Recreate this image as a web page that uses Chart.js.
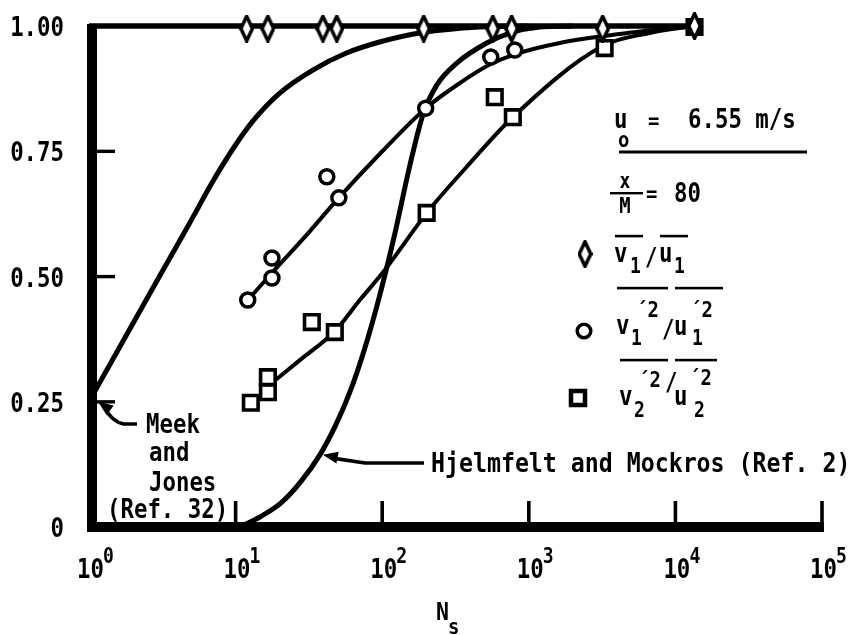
<!DOCTYPE html>
<html>
<head>
<meta charset="utf-8">
<script src="https://cdn.jsdelivr.net/npm/chart.js@4"></script>
<style>
  html, body { margin: 0; padding: 0; background: #fff; }
  #wrap { width: 859px; height: 635px; }
</style>
</head>
<body>
<div id="wrap"><canvas id="fig" width="859" height="635"></canvas></div>
<script>
// Axis ticks
const xTicks = [1, 10, 100, 1000, 10000, 100000];
const xTickExp = ['0', '1', '2', '3', '4', '5'];
const yTicks = [0, 0.25, 0.5, 0.75, 1];
const yTickLabels = ['0', '0.25', '0.50', '0.75', '1.00'];

// Measured points: v1/u1 (diamonds), v1'2/u1'2 (circles), v2'2/u2'2 (squares)
const diaX = [11.9, 16.6, 39.4, 49, 192, 568, 764, 3190, 13500];
const diaY = [0.995, 0.995, 0.995, 0.995, 0.995, 0.995, 0.995, 0.995, 1.0];
const circX = [12.1, 17.7, 17.7, 41.9, 50.6, 198, 550, 802, 13500];
const circY = [0.453, 0.497, 0.537, 0.699, 0.657, 0.836, 0.938, 0.952, 0.998];
const sqX = [12.7, 16.6, 16.6, 33.1, 47.5, 201, 586, 778, 3290, 13500];
const sqY = [0.248, 0.269, 0.299, 0.409, 0.389, 0.627, 0.858, 0.818, 0.956, 0.998];

// Faired curves through the measured points
const unityX = [1, 13500];
const unityY = [1, 1];
const circFitX = [12.13, 17.68, 29.68, 49.83, 99.4, 198.3, 338, 550, 777, 1624, 4166, 13500];
const circFitY = [0.453, 0.507, 0.579, 0.655, 0.749, 0.836, 0.886, 0.924, 0.942, 0.966, 0.984, 1.0];
const sqFitX = [16.61, 27.44, 47.53, 70.37, 104.2, 201.4, 377.4, 776.8, 3190, 6671, 13500];
const sqFitY = [0.281, 0.333, 0.391, 0.453, 0.513, 0.627, 0.719, 0.818, 0.960, 0.986, 1.0];

// Theory: Meek and Jones (Ref. 32), Hjelmfelt and Mockros (Ref. 2)
const meekX = [1, 1.5, 2.41, 3.5, 5.04, 7.0, 9.6, 13.1, 20, 33.6, 57, 96, 189, 462, 1000];
const meekY = [0.25, 0.342, 0.449, 0.533, 0.615, 0.690, 0.755, 0.810, 0.866, 0.912, 0.946, 0.968, 0.987, 0.998, 1.0];
const hjX = [10.7, 14.64, 20.04, 27.44, 37.55, 47.53, 60.13, 76.1, 96.3, 121.9, 154.2, 189.2, 235.6, 322.5, 516.4, 741.3, 1187, 2000];
const hjY = [0, 0.020, 0.046, 0.088, 0.144, 0.200, 0.269, 0.357, 0.463, 0.585, 0.721, 0.822, 0.882, 0.926, 0.966, 0.986, 0.998, 1.0];

const INK = '#000';
const FONT = '"DejaVu Sans Mono", "Liberation Mono", monospace';

const pts = (xs, ys) => xs.map((x, i) => ({ x, y: ys[i] }));

// tall narrow diamond used as a point style
function makeDiamond(w, h, lw) {
  const c = document.createElement('canvas');
  c.width = w; c.height = h;
  const g = c.getContext('2d');
  g.beginPath();
  g.moveTo(w / 2, lw / 2);
  g.lineTo(w - lw / 2, h / 2);
  g.lineTo(w / 2, h - lw / 2);
  g.lineTo(lw / 2, h / 2);
  g.closePath();
  g.fillStyle = '#fff';
  g.fill();
  g.lineWidth = lw;
  g.lineJoin = 'miter';
  g.strokeStyle = INK;
  g.stroke();
  return c;
}
const diamond = makeDiamond(15, 28, 3.5);

// condensed typewriter-style text
function txt(ctx, s, x, y, size, align) {
  ctx.save();
  ctx.font = `bold ${size}px ${FONT}`;
  ctx.fillStyle = INK;
  ctx.textBaseline = 'alphabetic';
  ctx.textAlign = align || 'left';
  ctx.translate(x, y);
  ctx.scale(0.86, 1);
  ctx.fillText(s, 0, 0);
  ctx.restore();
}

function arrowHead(ctx, tx, ty, fx, fy, len, half) {
  const a = Math.atan2(ty - fy, tx - fx);
  ctx.beginPath();
  ctx.moveTo(tx, ty);
  ctx.lineTo(tx - len * Math.cos(a) + half * Math.sin(a), ty - len * Math.sin(a) - half * Math.cos(a));
  ctx.lineTo(tx - len * Math.cos(a) - half * Math.sin(a), ty - len * Math.sin(a) + half * Math.cos(a));
  ctx.closePath();
  ctx.fill();
}

function overline(ctx, x1, x2, y) {
  ctx.fillRect(x1, y - 1.2, x2 - x1, 2.6);
}

// frame, ticks, tick labels and annotations
const decorPlugin = {
  id: 'decor',
  beforeDatasetsDraw(chart) {
    const { ctx, scales: { x, y } } = chart;
    const L = x.getPixelForValue(1), R = x.getPixelForValue(1e5);
    const T = y.getPixelForValue(1), B = y.getPixelForValue(0);
    ctx.save();
    ctx.fillStyle = INK;
    ctx.fillRect(L - 2, T - 2, 10, B - T + 7);
    ctx.fillRect(L - 2, B - 5, R - L + 4, 10);
    xTicks.slice(1).forEach(v => {
      const px = x.getPixelForValue(v);
      ctx.fillRect(px - 1.8, B - 26, 3.6, 26);
    });
    yTicks.slice(1, -1).forEach(v => {
      const py = y.getPixelForValue(v);
      ctx.fillRect(L + 8, py - 1.6, 18, 3.4);
    });
    ctx.restore();
  },
  afterDraw(chart) {
    const { ctx, scales: { x, y } } = chart;
    const B = y.getPixelForValue(0);
    ctx.save();
    ctx.fillStyle = INK;
    ctx.strokeStyle = INK;

    // y tick labels
    yTicks.forEach((v, i) => {
      txt(ctx, yTickLabels[i], 64, y.getPixelForValue(v) + 10, 26, 'right');
    });
    // x tick labels: 10 with superscript exponent
    xTicks.forEach((v, i) => {
      const px = x.getPixelForValue(v);
      txt(ctx, '10', px - 12, B + 51, 26);
      txt(ctx, xTickExp[i], px + 14, B + 36, 21);
    });
    // axis title N_s
    txt(ctx, 'N', 436, 620, 25);
    txt(ctx, 's', 448, 634, 22);

    // Meek and Jones label with hooked arrow
    txt(ctx, 'Meek', 146, 433, 26);
    txt(ctx, 'and', 149, 461, 26);
    txt(ctx, 'Jones', 149, 491, 26);
    txt(ctx, '(Ref. 32)', 107, 518, 26);
    const mx = x.getPixelForValue(meekX[0]) + 9, my = y.getPixelForValue(meekY[0]);
    ctx.lineWidth = 3.6;
    ctx.beginPath();
    ctx.moveTo(137, 424);
    ctx.lineTo(124, 424);
    ctx.quadraticCurveTo(112, 422, mx + 6, my + 5);
    ctx.stroke();
    arrowHead(ctx, mx, my, mx + 14, my + 10, 15, 6);

    // Hjelmfelt and Mockros label with arrow to the curve
    txt(ctx, 'Hjelmfelt and Mockros (Ref. 2)', 431, 472, 27);
    const hx = x.getPixelForValue(hjX[4]) + 3, hy = y.getPixelForValue(hjY[4]);
    ctx.beginPath();
    ctx.moveTo(424, 463);
    ctx.lineTo(365, 463);
    ctx.lineTo(hx + 8, hy + 3);
    ctx.stroke();
    arrowHead(ctx, hx, hy, 365, 463, 15, 6);

    // flow conditions
    txt(ctx, 'u', 614, 128, 26);
    txt(ctx, 'o', 618, 147, 22);
    txt(ctx, '=', 648, 128, 22);
    txt(ctx, '6.55 m/s', 688, 128, 26);
    ctx.fillRect(619, 150.5, 188, 3);
    txt(ctx, 'x', 625, 188, 21, 'center');
    ctx.fillRect(610, 192, 33, 2.4);
    txt(ctx, 'M', 625, 213, 22, 'center');
    txt(ctx, '=', 646, 201, 22);
    txt(ctx, '80', 674, 202, 26);

    // key: diamond
    ctx.drawImage(diamond, 585 - diamond.width / 2, 254 - diamond.height / 2);
    txt(ctx, 'v', 614, 262, 26);
    txt(ctx, '1', 630, 273, 21);
    txt(ctx, '/', 645, 265, 24);
    txt(ctx, 'u', 659, 262, 26);
    txt(ctx, '1', 674, 273, 21);
    overline(ctx, 615, 643, 236);
    overline(ctx, 660, 688, 236);

    // key: circle
    ctx.lineWidth = 3.5;
    ctx.fillStyle = '#fff';
    ctx.beginPath();
    ctx.arc(584, 331, 6.8, 0, Math.PI * 2);
    ctx.fill();
    ctx.stroke();
    ctx.fillStyle = INK;
    txt(ctx, 'v', 616, 334, 26);
    txt(ctx, '1', 631, 345, 21);
    txt(ctx, '\u00b42', 636, 317, 22);
    txt(ctx, '/', 662, 337, 24);
    txt(ctx, 'u', 674, 335, 26);
    txt(ctx, '1', 692, 345, 21);
    txt(ctx, '\u00b42', 690, 317, 22);
    overline(ctx, 617, 668, 288);
    overline(ctx, 675, 723, 288);

    // key: square
    ctx.lineWidth = 4.5;
    ctx.fillStyle = '#fff';
    ctx.fillRect(571, 391, 14, 14);
    ctx.strokeRect(571, 391, 14, 14);
    ctx.fillStyle = INK;
    txt(ctx, 'v', 619, 405, 26);
    txt(ctx, '2', 634, 417, 21);
    txt(ctx, '\u00b42', 638, 387, 22);
    txt(ctx, '/', 665, 390, 24);
    txt(ctx, 'u', 674, 405, 26);
    txt(ctx, '2', 694, 417, 21);
    txt(ctx, '\u00b42', 689, 385, 22);
    overline(ctx, 620, 668, 360);
    overline(ctx, 675, 717, 360);

    ctx.restore();
  },
};

const lineSet = (data, width, order) => ({
  data,
  showLine: true,
  borderColor: INK,
  borderWidth: width,
  pointRadius: 0,
  cubicInterpolationMode: 'monotone',
  fill: false,
  clip: false,
  order,
});

const markerSet = (data, style, radius, width) => ({
  data,
  showLine: false,
  pointStyle: style,
  pointRadius: radius,
  pointBorderWidth: width,
  pointBackgroundColor: '#fff',
  pointBorderColor: INK,
  clip: false,
  order: 0,
});

new Chart(document.getElementById('fig'), {
  type: 'scatter',
  data: {
    datasets: [
      markerSet(pts(diaX, diaY), diamond, 8, 3.5),
      markerSet(pts(circX, circY), 'circle', 7, 3.5),
      markerSet(pts(sqX, sqY), 'rect', 10.3, 3.6),
      lineSet(pts(unityX, unityY), 5.5, 1),
      lineSet(pts(circFitX, circFitY), 4, 1),
      lineSet(pts(sqFitX, sqFitY), 4, 1),
      lineSet(pts(meekX, meekY), 5, 1),
      lineSet(pts(hjX, hjY), 5, 1),
    ],
  },
  plugins: [decorPlugin],
  options: {
    responsive: false,
    animation: false,
    events: [],
    layout: { padding: { left: 89, right: 37, top: 26, bottom: 108 } },
    plugins: { legend: { display: false }, tooltip: { enabled: false } },
    scales: {
      x: { type: 'logarithmic', min: 1, max: 1e5, display: false },
      y: { type: 'linear', min: 0, max: 1, display: false },
    },
  },
});
</script>
</body>
</html>
